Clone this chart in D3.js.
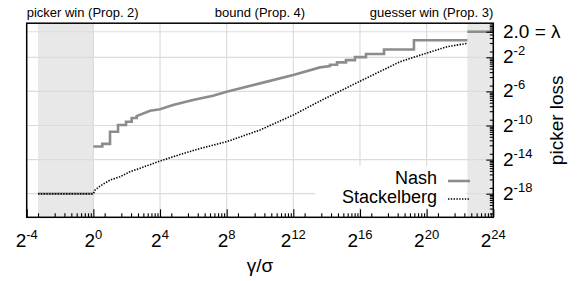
<!DOCTYPE html>
<html lang="en">
<head>
<meta charset="UTF-8">
<title>Picker loss</title>
<script src="https://cdn.jsdelivr.net/npm/d3@7"></script>
<style>
  body { margin: 0; background: #fff; }
  svg { display: block; font-family: "Liberation Sans", Arial, Helvetica, sans-serif; }
</style>
</head>
<body>
<div id="chart"></div>
<script>
// values (both axes log base 2)
const nashLowX = [0.1, 1];
const nashLowY = [3.81e-6, 3.81e-6];
const nashMidX = [1, 1.45, 1.45, 2, 2, 2.79, 2.79, 3.89, 3.89, 4.92, 4.92, 6.06, 6.06, 10.6, 16, 27.5, 63, 145, 256, 1024, 4096,
  12400, 18800, 18800, 25200, 25200, 36600, 36600, 53200, 53200, 84100, 84100, 178000, 178000, 618000, 618000, 5.7e6];
const nashMidY = [1.77e-4, 1.77e-4, 2.2e-4, 2.2e-4, 5.9e-4, 5.9e-4, 1.02e-3, 1.02e-3, 1.33e-3, 1.33e-3, 1.8e-3, 1.8e-3, 2.11e-3, 3.24e-3, 3.65e-3, 5.16e-3, 7.8e-3, 0.011, 0.0152, 0.03, 0.059,
  0.11, 0.122, 0.136, 0.136, 0.165, 0.165, 0.199, 0.199, 0.254, 0.254, 0.325, 0.325, 0.47, 0.47, 1.0, 1.0];
const nashHighX = [5.7e6, 16777216];
const nashHighY = [2, 2];

const stackX = [0.1, 1, 1.07, 1.32, 2, 3.03, 4.59, 6.96, 16, 36.8, 84.4, 256, 1024, 4096, 12400, 62900, 345900, 1.02e6, 2.45e6, 5.7e6];
const stackY = [3.81e-6, 3.81e-6, 5.14e-6, 7.12e-6, 1.157e-5, 1.516e-5, 2.28e-5, 3.01e-5, 5.43e-5, 9.25e-5, 1.5e-4, 2.62e-4, 6.77e-4, 2.29e-3, 7.14e-3, 0.0344, 0.174, 0.346, 0.59, 0.779];

const pickerWin = [0.1, 1];
const guesserWin = [5.7e6, 16777216];
const xTickExp = [-4, 0, 4, 8, 12, 16, 20, 24];
const yTickExp = [-2, -6, -10, -14, -18];
const lambda = 2;
const regionLabels = ["picker win (Prop. 2)", "bound (Prop. 4)", "guesser win (Prop. 3)"];

const width = 581, height = 281;
const plotL = 26.7, plotR = 493.3, plotT = 23.2, plotB = 217.3;

const svg = d3.select("#chart").append("svg")
  .attr("width", width)
  .attr("height", height);

const x = d3.scaleLog().base(2).domain([2 ** -4, 2 ** 24]).range([plotL, plotR]);
const y = d3.scaleLog().base(2).domain([5.6e-7, 4]).range([plotB, plotT]);

// shaded regions
svg.selectAll("rect.shade")
  .data([pickerWin, guesserWin])
  .join("rect")
  .attr("x", d => x(d[0]))
  .attr("width", d => x(d[1]) - x(d[0]))
  .attr("y", plotT)
  .attr("height", plotB - plotT)
  .attr("fill", "#e8e8e8");

// grid
const grid = svg.append("g").attr("stroke", "#dcdcdc").attr("stroke-width", 1.2);
grid.selectAll("line.v")
  .data(xTickExp.slice(1, -1))
  .join("line")
  .attr("x1", d => x(2 ** d)).attr("x2", d => x(2 ** d))
  .attr("y1", plotT).attr("y2", plotB);
grid.selectAll("line.h")
  .data([lambda].concat(yTickExp.map(e => 2 ** e)))
  .join("line")
  .attr("y1", d => y(d)).attr("y2", d => y(d))
  .attr("x1", plotL).attr("x2", plotR);

// legend box hides the grid behind it
svg.append("rect")
  .attr("x", 315).attr("y", 166)
  .attr("width", 151).attr("height", 42)
  .attr("fill", "#fff");

const line = d3.line().x(d => x(d[0])).y(d => y(d[1]));
const zip = (xs, ys) => xs.map((v, i) => [v, ys[i]]);

const nashStyle = p => p.attr("fill", "none").attr("stroke", "#8c8c8c").attr("stroke-width", 2.6);
const stackStyle = p => p.attr("fill", "none").attr("stroke", "#000").attr("stroke-width", 1.6).attr("stroke-dasharray", "1.4,1.4");

[[nashLowX, nashLowY], [nashMidX, nashMidY], [nashHighX, nashHighY]].forEach(([xs, ys]) => {
  svg.append("path").datum(zip(xs, ys)).attr("d", line).call(nashStyle);
});
svg.append("path").datum(zip(stackX, stackY)).attr("d", line).call(stackStyle);

// frame
svg.append("rect")
  .attr("x", plotL).attr("y", plotT)
  .attr("width", plotR - plotL).attr("height", plotB - plotT)
  .attr("fill", "none").attr("stroke", "#000").attr("stroke-width", 1.5);

// minor ticks: tenths of the next major
function minors(exps) {
  const out = [];
  exps.forEach(e => { for (let m = 1; m < 10; m++) out.push(2 ** e * m / 10); });
  return out;
}
const xMinor = minors(xTickExp.slice(1)).filter(v => v > x.domain()[0]);
const yMinor = minors([2, -2, -6, -10, -14, -18]).filter(v => v > y.domain()[0] && v < y.domain()[1]);

const xAxisMajor = svg.append("g").attr("transform", `translate(0,${plotB})`)
  .call(d3.axisBottom(x).tickValues(xTickExp.map(e => 2 ** e)).tickSize(-8).tickSizeOuter(0).tickFormat(""));
const xAxisMinor = svg.append("g").attr("transform", `translate(0,${plotB})`)
  .call(d3.axisBottom(x).tickValues(xMinor).tickSize(-4).tickSizeOuter(0).tickFormat(""));
const yAxisMajor = svg.append("g").attr("transform", `translate(${plotR},0)`)
  .call(d3.axisRight(y).tickValues([lambda].concat(yTickExp.map(e => 2 ** e))).tickSize(-7).tickSizeOuter(0).tickFormat(""));
const yAxisMinor = svg.append("g").attr("transform", `translate(${plotR},0)`)
  .call(d3.axisRight(y).tickValues(yMinor).tickSize(-3.5).tickSizeOuter(0).tickFormat(""));
[xAxisMajor, xAxisMinor, yAxisMajor, yAxisMinor].forEach(g => {
  g.select(".domain").remove();
  g.selectAll(".tick line").attr("stroke", "#000").attr("stroke-width", 1.1);
});

// power-of-two labels
function powLabel(sel, exp) {
  sel.append("tspan").text("2");
  sel.append("tspan").attr("dy", -8).attr("font-size", 13).text(exp);
}

svg.append("g").selectAll("text")
  .data(xTickExp)
  .join("text")
  .attr("x", d => x(2 ** d))
  .attr("y", 247)
  .attr("text-anchor", "middle")
  .attr("font-size", 19)
  .each(function(d) { powLabel(d3.select(this), d); });

svg.append("g").selectAll("text")
  .data(yTickExp)
  .join("text")
  .attr("x", 503)
  .attr("y", d => y(2 ** d) + 6)
  .attr("font-size", 19)
  .each(function(d) { powLabel(d3.select(this), d); });

svg.append("text")
  .attr("x", 503).attr("y", y(lambda) + 6)
  .attr("font-size", 19)
  .text("2.0 = λ");

svg.append("text")
  .attr("x", (plotL + plotR) / 2).attr("y", 272)
  .attr("text-anchor", "middle")
  .attr("font-size", 19)
  .text("γ/σ");

svg.append("text")
  .attr("transform", `translate(563,${(plotT + plotB) / 2}) rotate(-90)`)
  .attr("text-anchor", "middle")
  .attr("font-size", 19)
  .text("picker loss");

// region labels above the frame
svg.append("g").selectAll("text")
  .data(regionLabels)
  .join("text")
  .attr("x", (d, i) => [plotL, (plotL + plotR) / 2, plotR][i])
  .attr("y", 17)
  .attr("text-anchor", (d, i) => ["start", "middle", "end"][i])
  .attr("font-size", 13)
  .text(d => d);

// legend
const legend = svg.append("g").attr("font-size", 18).attr("text-anchor", "end");
legend.append("text").attr("x", 437).attr("y", 184).text("Nash");
legend.append("text").attr("x", 437).attr("y", 203).text("Stackelberg");
legend.append("line").attr("x1", 448).attr("x2", 470).attr("y1", 181).attr("y2", 181).call(nashStyle);
legend.append("line").attr("x1", 448).attr("x2", 470).attr("y1", 199).attr("y2", 199).call(stackStyle);
</script>
</body>
</html>
